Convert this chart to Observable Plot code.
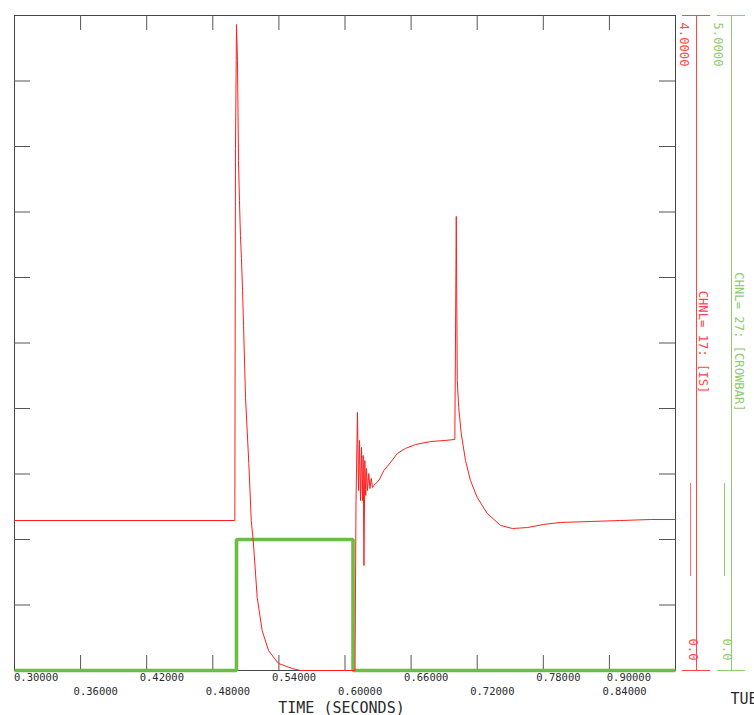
<!DOCTYPE html>
<html>
<head>
<meta charset="utf-8">
<script src="https://cdn.jsdelivr.net/npm/d3@7"></script>
<script src="https://cdn.jsdelivr.net/npm/@observablehq/plot@0.6"></script>
<style>
  html, body { margin: 0; padding: 0; background: #ffffff; }
  #chart svg { display: block; }
</style>
</head>
<body>
<div id="chart"></div>
<script>
// ---- Data ----
// Channel 17: [IS] (red, scale 0 .. 4.0000)
const isTime = [0.3000, 0.5000, 0.5006, 0.5015, 0.5024, 0.5029, 0.5033, 0.5042, 0.5051, 0.5060,
  0.5070, 0.5079, 0.5097, 0.5127, 0.5149, 0.5167, 0.5203, 0.5248, 0.5306, 0.5396,
  0.5523, 0.5596, 0.6091, 0.6100, 0.6113, 0.6123, 0.6132, 0.6141, 0.6150, 0.6159,
  0.6165, 0.6172, 0.6180, 0.6188, 0.6195, 0.6204, 0.6216, 0.6227, 0.6238, 0.6250,
  0.6261, 0.6307, 0.6352, 0.6413, 0.6474, 0.6549, 0.6640, 0.6776, 0.6912, 0.6997,
  0.7010, 0.7019, 0.7032, 0.7055, 0.7094, 0.7139, 0.7200, 0.7291, 0.7412, 0.7520,
  0.7657, 0.7802, 0.7956, 0.8229, 0.8501, 0.8773, 0.9000];
const isValue = [0.916, 0.916, 3.188, 3.945, 3.725, 3.408, 3.115, 2.870, 2.657, 2.516,
  2.321, 2.107, 1.667, 1.264, 0.916, 0.794, 0.446, 0.244, 0.122, 0.043,
  0.012, 0, 0, 1.038, 1.576, 1.099, 1.405, 1.038, 1.362, 1.038,
  1.313, 0.641, 1.282, 1.069, 1.234, 1.099, 1.203, 1.111, 1.173, 1.118,
  1.130, 1.160, 1.221, 1.270, 1.325, 1.356, 1.380, 1.398, 1.405, 1.411,
  2.773, 1.771, 1.606, 1.447, 1.282, 1.160, 1.057, 0.959, 0.886, 0.867,
  0.873, 0.892, 0.904, 0.910, 0.916, 0.922, 0.922];

// Channel 27: [CROWBAR] (green, scale 0 .. 5.0000)
const crowbarTime = [0.3000, 0.5015, 0.5015, 0.6073, 0.6073, 0.9000];
const crowbarValue = [0, 0, 1, 1, 0, 0];

// Axis ticks and labels
const xTicks = [0.30, 0.36, 0.42, 0.48, 0.54, 0.60, 0.66, 0.72, 0.78, 0.84, 0.90];
const yTicks = [0.4, 0.8, 1.2, 1.6, 2.0, 2.4, 2.8, 3.2, 3.6];
const redMax = 4;
const greenMax = 5;
const redAxisLabels = ["0.0", "4.0000"];
const greenAxisLabels = ["0.0", "5.0000"];
const xTitle = ["TIME (SECONDS)"];
const redName = ["CHNL= 17: [IS]"];
const greenName = ["CHNL= 27: [CROWBAR]"];
const footer = ["TUE"];

// ---- Styles ----
const RED = "#ff1e1e";
const RED_AXIS = "#ff4545";
const GREEN = "#6cbd45";
const GREEN_AXIS = "#8fcc6e";
const AXIS = "#555555";
const TEXT = "#2a2a2a";
const MONO = "DejaVu Sans Mono, Liberation Mono, monospace";

const fmt = d3.format(".5f");
const isData = isTime.map((t, i) => ({t, v: isValue[i]}));
const cbData = crowbarTime.map((t, i) => ({t, v: crowbarValue[i] / greenMax * redMax}));
const row1 = xTicks.filter((d, i) => i % 2 === 0);
const row2 = xTicks.filter((d, i) => i % 2 === 1);
const xMax = xTicks[xTicks.length - 1];

const labelFont = {fontFamily: MONO, fontSize: 10.5, fill: TEXT};
const sideFont = {fontFamily: MONO, fontSize: 12.2, rotate: 90};

const chart = Plot.plot({
  width: 754,
  height: 715,
  marginLeft: 14,
  marginRight: 79,
  marginTop: 15,
  marginBottom: 45,
  x: {domain: [xTicks[0], xMax], axis: null},
  y: {domain: [0, redMax], axis: null},
  style: {background: "#ffffff", fontFamily: MONO, overflow: "visible"},
  marks: [
    Plot.frame({stroke: "#444444"}),
    // inner tick marks on all four sides
    Plot.tickX(xTicks.slice(1, -1), {x: d => d, stroke: AXIS, insetTop: 640}),
    Plot.tickX(xTicks.slice(1, -1), {x: d => d, stroke: AXIS, insetBottom: 640}),
    Plot.tickY(yTicks, {y: d => d, stroke: AXIS, insetRight: 645}),
    Plot.tickY(yTicks, {y: d => d, stroke: AXIS, insetLeft: 645}),

    // series
    Plot.line(cbData, {x: "t", y: "v", stroke: GREEN, strokeWidth: 3.6,
      strokeLinejoin: "miter", strokeLinecap: "butt"}),
    Plot.line(isData, {x: "t", y: "v", stroke: RED, strokeWidth: 1}),

    // x tick labels (two staggered rows)
    Plot.text([row1[0]], {x: d => d, text: fmt, frameAnchor: "bottom", textAnchor: "start", dx: -0.5, dy: 10, ...labelFont}),
    Plot.text(row1.slice(1, -1), {x: d => d, text: fmt, frameAnchor: "bottom", textAnchor: "start", dx: -7, dy: 10, ...labelFont}),
    Plot.text([row1[row1.length - 1]], {x: d => d, text: fmt, frameAnchor: "bottom", textAnchor: "end", dx: -24.5, dy: 10, ...labelFont}),
    Plot.text(row2, {x: d => d, text: fmt, frameAnchor: "bottom", textAnchor: "start", dx: -7, dy: 24, ...labelFont}),
    Plot.text(xTitle, {frameAnchor: "bottom", dx: -3.5, dy: 42, fontFamily: MONO, fontSize: 15, fill: TEXT}),
    Plot.text(footer, {frameAnchor: "bottom-right", textAnchor: "start", dx: 55, dy: 33, fontFamily: MONO, fontSize: 15, fill: TEXT}),

    // red channel axis (scale 0 .. 4.0000)
    Plot.ruleX([xMax], {x: d => d, dx: 21, stroke: RED_AXIS}),
    Plot.ruleY([0, redMax], {y: d => d, insetLeft: 668, insetRight: -35, stroke: RED_AXIS}),
    Plot.text([redAxisLabels[1]], {frameAnchor: "top-right", textAnchor: "start", dx: 13.5, dy: 7, fill: RED_AXIS, ...sideFont}),
    Plot.text([redAxisLabels[0]], {frameAnchor: "bottom-right", textAnchor: "end", dx: 13.5, dy: -10, fill: RED_AXIS, ...sideFont}),
    Plot.text(redName, {frameAnchor: "right", textAnchor: "middle", dx: 27, dy: -1, fill: RED_AXIS, ...sideFont}),
    Plot.ruleX([xMax], {x: d => d, dx: 15, insetTop: 468, insetBottom: 94, stroke: RED_AXIS, strokeOpacity: 0.75}),

    // green channel axis (scale 0 .. 5.0000)
    Plot.ruleX([xMax], {x: d => d, dx: 56, stroke: GREEN_AXIS}),
    Plot.ruleY([0, redMax], {y: d => d, insetLeft: 703, insetRight: -70, stroke: GREEN_AXIS}),
    Plot.text([greenAxisLabels[1]], {frameAnchor: "top-right", textAnchor: "start", dx: 47.5, dy: 7, fill: GREEN_AXIS, ...sideFont}),
    Plot.text([greenAxisLabels[0]], {frameAnchor: "bottom-right", textAnchor: "end", dx: 47.5, dy: -10, fill: GREEN_AXIS, ...sideFont}),
    Plot.text(greenName, {frameAnchor: "right", textAnchor: "middle", dx: 63, dy: -1, fill: GREEN_AXIS, ...sideFont}),
    Plot.ruleX([xMax], {x: d => d, dx: 49, insetTop: 468, insetBottom: 94, stroke: GREEN_AXIS})
  ]
});

document.getElementById("chart").appendChild(chart);
</script>
</body>
</html>
